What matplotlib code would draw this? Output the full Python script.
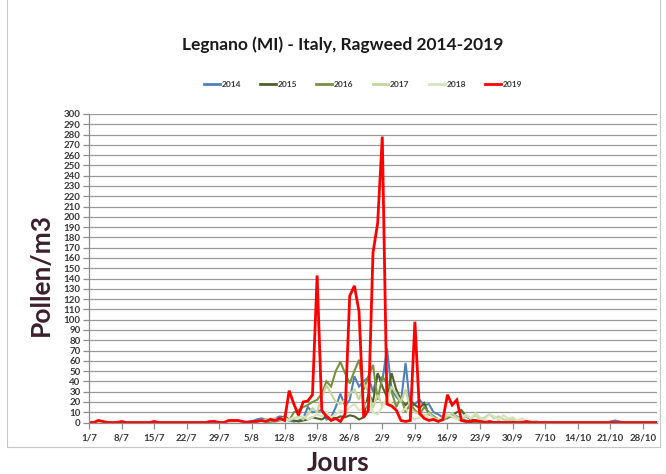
import matplotlib
matplotlib.use('Agg')
import matplotlib.pyplot as plt
import numpy as np

# jours 1/7 -> 31/10 (123 jours)
jours = np.arange(123)
tick_pos = [0, 7, 14, 21, 28, 35, 42, 49, 56, 63, 70, 77, 84, 91, 98, 105, 112, 119]
tick_lab = ['1/7', '8/7', '15/7', '22/7', '29/7', '5/8', '12/8', '19/8', '26/8',
            '2/9', '9/9', '16/9', '23/9', '30/9', '7/10', '14/10', '21/10', '28/10']

annees = ['2014', '2015', '2016', '2017', '2018', '2019']
couleurs = ['#4F81BD', '#4F6228', '#77933C', '#C3D69B', '#D7E4BD', '#FF0000']

p2014 = [0, 0, 0, 0, 0, 0, 0, 0, 0, 0,
         0, 0, 0, 0, 0, 0, 0, 0, 0, 0,
         0, 0, 0, 0, 0, 0, 0, 0, 0, 0,
         0, 0, 0, 0, 1, 1, 3, 4, 3, 2,
         4, 6, 5, 2, 1, 2, 4, 15, 10, 11,
         12, 3, 5, 15, 28, 16, 22, 45, 35, 40,
         44, 30, 47, 40, 72, 32, 25, 20, 58, 15,
         18, 22, 17, 18, 10, 8, 5, 4, 8, 6,
         3, 2, 1, 1, 0, 0, 1, 0, 0, 0,
         0, 1, 0, 0, 0, 0, 1, 0, 0, 0,
         0, 0, 0, 0, 0, 0, 0, 0, 0, 0,
         0, 0, 1, 2, 1, 0, 0, 0, 0, 0,
         0, 0, 0]
p2015 = [0, 0, 0, 0, 0, 0, 0, 0, 0, 0,
         0, 0, 0, 0, 0, 0, 0, 0, 0, 0,
         0, 0, 0, 0, 0, 0, 0, 0, 0, 0,
         0, 0, 0, 0, 0, 0, 1, 1, 2, 1,
         3, 4, 6, 3, 2, 1, 2, 3, 5, 4,
         3, 6, 5, 4, 6, 5, 7, 6, 3, 5,
         28, 20, 48, 35, 25, 48, 32, 22, 17, 22,
         17, 14, 19, 8, 6, 3, 4, 5, 7, 10,
         12, 6, 3, 2, 1, 1, 0, 0, 1, 0,
         0, 0, 0, 0, 0, 0, 0, 0, 0, 0,
         0, 0, 0, 0, 0, 0, 0, 0, 0, 0,
         0, 0, 0, 0, 0, 0, 0, 0, 0, 0,
         0, 0, 0]
p2016 = [0, 0, 0, 0, 0, 0, 0, 0, 0, 0,
         0, 0, 0, 0, 0, 0, 0, 0, 0, 0,
         0, 0, 0, 0, 0, 0, 0, 0, 0, 0,
         0, 0, 0, 0, 0, 0, 0, 1, 0, 1,
         1, 2, 3, 2, 10, 12, 15, 17, 20, 22,
         28, 40, 35, 50, 59, 48, 38, 50, 61, 32,
         45, 56, 22, 45, 38, 30, 15, 25, 10, 18,
         12, 8, 15, 10, 6, 3, 2, 5, 6, 4,
         2, 1, 1, 0, 0, 0, 0, 0, 0, 0,
         0, 0, 0, 0, 0, 0, 0, 0, 0, 0,
         0, 0, 0, 0, 0, 0, 0, 0, 0, 0,
         0, 0, 0, 0, 0, 0, 0, 0, 0, 0,
         0, 0, 0]
p2017 = [0, 0, 0, 0, 0, 0, 0, 0, 0, 0,
         0, 0, 0, 0, 0, 0, 0, 0, 0, 0,
         0, 0, 0, 0, 0, 0, 0, 0, 0, 0,
         0, 0, 0, 0, 0, 0, 1, 2, 3, 4,
         2, 3, 5, 2, 4, 6, 3, 8, 14, 10,
         25, 36, 28, 20, 18, 22, 28, 32, 22, 38,
         30, 14, 27, 16, 22, 35, 28, 20, 32, 14,
         10, 8, 6, 9, 5, 3, 4, 6, 9, 5,
         3, 6, 4, 7, 3, 5, 8, 4, 6, 3,
         2, 4, 1, 2, 1, 0, 1, 0, 0, 0,
         0, 0, 0, 0, 0, 0, 0, 0, 0, 0,
         0, 0, 0, 0, 0, 0, 0, 0, 0, 0,
         0, 0, 0]
p2018 = [0, 0, 0, 0, 0, 0, 0, 0, 0, 0,
         0, 0, 0, 0, 0, 0, 0, 0, 0, 0,
         0, 0, 0, 0, 0, 0, 0, 0, 0, 0,
         0, 0, 0, 0, 0, 0, 0, 0, 1, 2,
         4, 3, 2, 3, 5, 4, 6, 3, 5, 8,
         6, 10, 5, 8, 12, 9, 15, 18, 12, 14,
         20, 10, 8, 15, 24, 18, 12, 10, 14, 6,
         3, 5, 8, 4, 2, 3, 5, 8, 6, 3,
         5, 8, 4, 9, 5, 3, 8, 6, 3, 7,
         4, 5, 2, 4, 1, 2, 1, 0, 1, 0,
         0, 0, 0, 0, 0, 0, 0, 0, 0, 0,
         0, 0, 0, 0, 0, 0, 0, 0, 0, 0,
         0, 0, 0]
p2019 = [0, 0, 2, 1, 0, 0, 0, 1, 0, 0,
         0, 0, 0, 0, 1, 0, 0, 0, 0, 0,
         0, 0, 0, 0, 0, 0, 1, 1, 0, 0,
         2, 2, 2, 1, 0, 1, 1, 2, 1, 3,
         2, 4, 2, 31, 18, 7, 20, 21, 27, 143,
         12, 6, 2, 4, 1, 8, 123, 133, 108, 5,
         12, 165, 194, 278, 18, 16, 12, 2, 1, 2,
         98, 9, 4, 2, 3, 1, 3, 27, 17, 22,
         2, 1, 1, 2, 1, 0, 1, 0, 0, 0,
         0, 0, 0, 0, 1, 0, 0, 0, 0, 0,
         0, 0, 0, 0, 0, 0, 0, 0, 0, 0,
         0, 0, 0, 0, 0, 0, 0, 0, 0, 0,
         0, 0, 0]

series = [p2014, p2015, p2016, p2017, p2018, p2019]
epaisseur = [1.5, 1.5, 1.5, 1.5, 1.5, 2.0]

plt.rcParams['font.family'] = ['Lato', 'DejaVu Sans']

fig = plt.figure(figsize=(6.66, 4.74), dpi=100)
ax = fig.add_axes([0.1336, 0.1086, 0.8529, 0.6509])

for i in range(len(series)):
    ax.plot(jours, series[i], color=couleurs[i], lw=epaisseur[i], label=annees[i],
            solid_joinstyle='miter')

ax.set_xlim(0, 122)
ax.set_ylim(0, 300)
ax.set_yticks(np.arange(0, 301, 10))
ax.set_xticks(tick_pos)
ax.set_xticklabels(tick_lab)
ax.yaxis.grid(True, color='#9A9A9A', lw=0.9)
ax.set_axisbelow(True)
for s in ['top', 'right']:
    ax.spines[s].set_visible(False)
for s in ['left', 'bottom']:
    ax.spines[s].set_color('#8C8C8C')
    ax.spines[s].set_linewidth(0.9)
ax.tick_params(axis='both', colors='#8C8C8C', length=4, width=0.9, labelsize=7,
               labelcolor='#3A3A3A')
for t in ax.get_xticklabels() + ax.get_yticklabels():
    t.set_fontweight('bold')
ax.tick_params(axis='x', pad=4)
ax.tick_params(axis='y', pad=2)

fig.text(0.514, 0.905, 'Legnano (MI) - Italy, Ragweed 2014-2019', ha='center', va='center',
         fontsize=12.5, fontweight='bold', color='#1A1A1A')
leg = fig.legend(loc='center', bbox_to_anchor=(0.545, 0.821), ncol=6, frameon=False,
                 fontsize=6, handlelength=1.9, handletextpad=0.2, columnspacing=2.3)
for t in leg.get_texts():
    t.set_fontweight('bold')
    t.set_color('#3A3A3A')
for l in leg.get_lines():
    l.set_linewidth(2.0)

fig.text(0.062, 0.42, 'Pollen/m3', rotation=90, ha='center', va='center',
         fontsize=19, fontweight='bold', color='#3B1F2B')
fig.text(0.507, 0.024, 'Jours', ha='center', va='center',
         fontsize=19, fontweight='bold', color='#3B1F2B')

# cadre du graphique
cadre = '#C8C8C8'
fig.add_artist(plt.Line2D([0.0105, 0.0105], [0.057, 1.0], color=cadre, lw=0.8))
fig.add_artist(plt.Line2D([0.991, 0.991], [0.057, 1.0], color=cadre, lw=0.8))
fig.add_artist(plt.Line2D([0.0105, 0.991], [0.057, 0.057], color=cadre, lw=0.8))

plt.savefig('out.png', dpi=100)
